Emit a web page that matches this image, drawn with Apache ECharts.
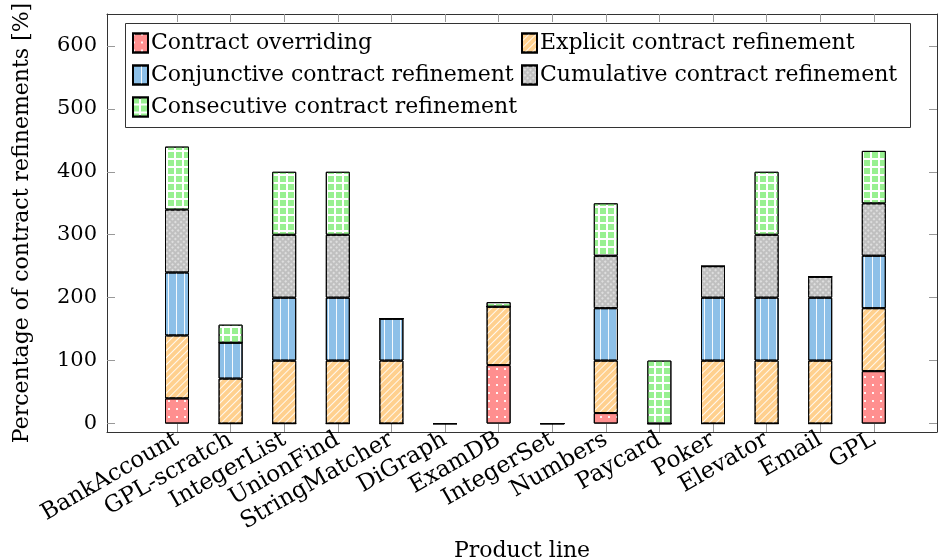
<!DOCTYPE html>
<html>
<head>
<meta charset="utf-8">
<script src="https://cdn.jsdelivr.net/npm/echarts@6/dist/echarts.min.js"></script>
<style>html,body{margin:0;padding:0;background:#fff}#c{width:938px;height:560px}</style>
</head>
<body>
<div id="c"></div>
<script>
const categories = ['BankAccount','GPL-scratch','IntegerList','UnionFind','StringMatcher','DiGraph','ExamDB','IntegerSet','Numbers','Paycard','Poker','Elevator','Email','GPL'];
const overriding  = [40, 0, 0, 0, 0, 0, 92.9, 0, 16.7, 0, 0, 0, 0, 83.3];
const explicit    = [100, 71.4, 100, 100, 100, 0, 92.9, 0, 83.3, 0, 100, 100, 100, 100];
const conjunctive = [100, 57.1, 100, 100, 66.7, 0, 0, 0, 83.3, 0, 100, 100, 100, 83.3];
const cumulative  = [100, 0, 100, 100, 0, 0, 0, 0, 83.3, 0, 50, 100, 33.3, 83.3];
const consecutive = [100, 28.6, 100, 100, 0, 0, 7.1, 0, 83.3, 100, 0, 100, 0, 83.3];
const yTicks = [0, 100, 200, 300, 400, 500, 600];
const seriesNames = ['Contract overriding','Explicit contract refinement','Conjunctive contract refinement','Cumulative contract refinement','Consecutive contract refinement'];

const FONT = 'DejaVu Serif';
const xIdx = categories.map((c, i) => i);
const Y_MIN = -13.4, Y_MAX = 650.7;

const styles = [
  { color: '#ff8f8f', decal: { symbol: 'rect', symbolSize: 1, rotation: 0, dashArrayX: [2, 6], dashArrayY: [2, 6], color: 'rgba(255,255,255,0.9)' } },
  { color: '#ffd08e', decal: { symbol: 'rect', symbolSize: 1, rotation: -Math.PI / 4, dashArrayX: [1, 0], dashArrayY: [1, 4], color: 'rgba(255,255,255,0.85)' } },
  { color: '#8dc0e8', decal: { symbol: 'rect', symbolSize: 1, rotation: 0, dashArrayX: [1, 7], dashArrayY: [1, 0], color: 'rgba(255,255,255,0.9)' } },
  { color: '#c0c0c0', decal: { symbol: 'rect', symbolSize: 1, rotation: Math.PI / 4, dashArrayX: [2, 2], dashArrayY: [2, 2], color: '#dedede' } },
  { color: '#ffffff', decal: { symbol: 'rect', symbolSize: 1, rotation: 0, dashArrayX: [6, 1.5], dashArrayY: [6, 1.5], color: '#98f090' } }
];
const values = [overriding, explicit, conjunctive, cumulative, consecutive];

const series = values.map((arr, k) => ({
  name: seriesNames[k],
  type: 'bar',
  stack: 'total',
  barWidth: 24,
  xAxisIndex: 2,
  yAxisIndex: 2,
  data: arr,
  itemStyle: { color: styles[k].color, borderColor: '#000', borderWidth: 1, decal: styles[k].decal },
  emphasis: { disabled: true }
}));

const chart = echarts.init(document.getElementById('c'), null, { renderer: 'canvas' });
const axisLineStyle = { color: '#333', width: 1 };
const tickStyle = { color: '#999', width: 1 };
const legendCommon = {
  orient: 'vertical', top: 32, padding: 0, itemWidth: 15, itemHeight: 19, itemGap: 10, icon: 'rect',
  textStyle: { fontFamily: FONT, fontSize: 22, color: '#000', padding: [0, 0, 0, -2] },
  selectedMode: false
};
chart.setOption({
  animation: false,
  aria: { enabled: true, decal: { show: true } },
  textStyle: { fontFamily: FONT },
  grid: [
    { left: 107, right: 1, top: 14, bottom: 128, outerBoundsMode: 'none', containLabel: false },
    { left: 150.2, right: 37.4, top: 14, bottom: 128, outerBoundsMode: 'none', containLabel: false }
  ],
  legend: [
    Object.assign({ data: [seriesNames[0], seriesNames[2], seriesNames[4]], left: 132 }, legendCommon),
    Object.assign({ data: [seriesNames[1], seriesNames[3]], left: 521 }, legendCommon)
  ],
  graphic: [
    { type: 'rect', left: 125, top: 23, shape: { width: 785, height: 104 }, style: { fill: '#fff', stroke: '#333', lineWidth: 1 }, silent: true, z: -1, zlevel: 0 }
  ],
  xAxis: [
    {
      gridIndex: 0, type: 'value', min: -1.306, max: 14.18, position: 'bottom',
      name: 'Product line', nameLocation: 'middle', nameGap: 106,
      nameTextStyle: { fontFamily: FONT, fontSize: 22, color: '#000' },
      axisLine: { show: true, onZero: false, lineStyle: axisLineStyle },
      axisTick: { show: true, inside: true, length: 8, customValues: xIdx, lineStyle: tickStyle },
      axisLabel: { show: true, rotate: 30, margin: 6, customValues: xIdx, fontFamily: FONT, fontSize: 23, color: '#000',
        hideOverlap: false, formatter: v => categories[Math.round(v)] },
      splitLine: { show: false }
    },
    {
      gridIndex: 0, type: 'value', min: -1.306, max: 14.18, position: 'top',
      axisLine: { show: true, onZero: false, lineStyle: axisLineStyle },
      axisTick: { show: true, inside: true, length: 8, customValues: xIdx, lineStyle: tickStyle },
      axisLabel: { show: false },
      splitLine: { show: false }
    },
    {
      gridIndex: 1, type: 'category', data: categories, boundaryGap: true,
      axisLine: { show: false }, axisTick: { show: false }, axisLabel: { show: false }, splitLine: { show: false }
    }
  ],
  yAxis: [
    {
      gridIndex: 0, type: 'value', min: Y_MIN, max: Y_MAX, position: 'left',
      name: 'Percentage of contract refinements [%]', nameLocation: 'middle', nameGap: 74,
      nameTextStyle: { fontFamily: FONT, fontSize: 22, color: '#000' },
      axisLine: { show: true, onZero: false, lineStyle: axisLineStyle },
      axisTick: { show: true, inside: true, length: 8, customValues: yTicks, lineStyle: tickStyle },
      axisLabel: { show: true, margin: 10, customValues: yTicks, fontFamily: FONT, fontSize: 21, color: '#000' },
      splitLine: { show: false }
    },
    {
      gridIndex: 0, type: 'value', min: Y_MIN, max: Y_MAX, position: 'right',
      axisLine: { show: true, onZero: false, lineStyle: axisLineStyle },
      axisTick: { show: true, inside: true, length: 8, customValues: yTicks, lineStyle: tickStyle },
      axisLabel: { show: false },
      splitLine: { show: false }
    },
    {
      gridIndex: 1, type: 'value', min: Y_MIN, max: Y_MAX,
      axisLine: { show: false }, axisTick: { show: false }, axisLabel: { show: false }, splitLine: { show: false }
    }
  ],
  series: series
});
</script>
</body>
</html>
